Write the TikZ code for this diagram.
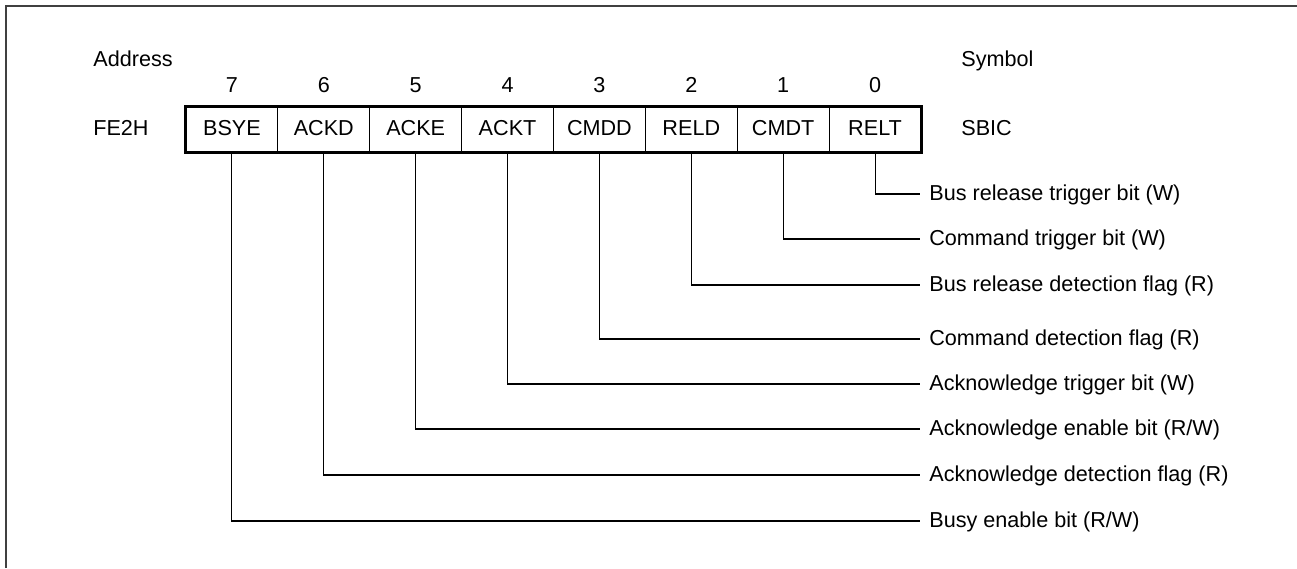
\documentclass[tikz,border=0pt]{standalone}
\usepackage{fontspec}
\setmainfont{Liberation Sans}
\usetikzlibrary{positioning}

\tikzset{
  bitcell/.style={draw,line width=0.6pt,minimum width=1.8375cm,minimum height=0.9cm,inner sep=0pt,text height=0.72em,text depth=0pt},
  caplabel/.style={inner sep=0pt,text height=0.72em,text depth=0pt},
  desc/.style={anchor=west,inner xsep=0.18cm,inner ysep=0pt,text height=0.72em,text depth=0pt},
  lead/.style={line width=0.6pt},
}

\begin{document}
\begin{tikzpicture}[font=\fontsize{12.3}{14}\selectfont]
  \useasboundingbox (0,0) rectangle (25.94,11.36);
  \draw[black!75,line width=0.7pt] (0.12,0)--(0.12,11.24)--(25.94,11.24);
  % headings
  \node[caplabel,anchor=west] (addr) at (1.86,10.15) {Address};
  \node[caplabel,anchor=west] (sym) at (19.22,10.15) {Symbol};
  \node[caplabel,anchor=west] (fe2h) at (1.86,8.77) {FE2H};
  \node[caplabel,anchor=west] (sbic) at (19.22,8.77) {SBIC};
  % register cells
  \foreach \n/\t [count=\k from 0] in {7/BSYE,6/ACKD,5/ACKE,4/ACKT,3/CMDD,2/RELD,1/CMDT,0/RELT} {
    \node[bitcell] (b\n) at ({3.72+1.8375*(\k+0.5)},8.77) {\t};
    \node[caplabel] (n\n) at ({3.72+1.8375*(\k+0.5)},9.64) {\n};
  }
  \draw[line width=1.4pt] (b7.north west) rectangle (b0.south east);
  % bit descriptions
  \foreach \n/\y/\t in {0/7.48/{Bus release trigger bit (W)},
                        1/6.58/{Command trigger bit (W)},
                        2/5.66/{Bus release detection flag (R)},
                        3/4.58/{Command detection flag (R)},
                        4/3.68/{Acknowledge trigger bit (W)},
                        5/2.78/{Acknowledge enable bit (R/W)},
                        6/1.86/{Acknowledge detection flag (R)},
                        7/0.94/{Busy enable bit (R/W)}} {
    \node[desc] (d\n) at (18.40,\y) {\t};
    \draw[lead] (b\n.south) |- (d\n.west);
  }
\end{tikzpicture}
\end{document}
